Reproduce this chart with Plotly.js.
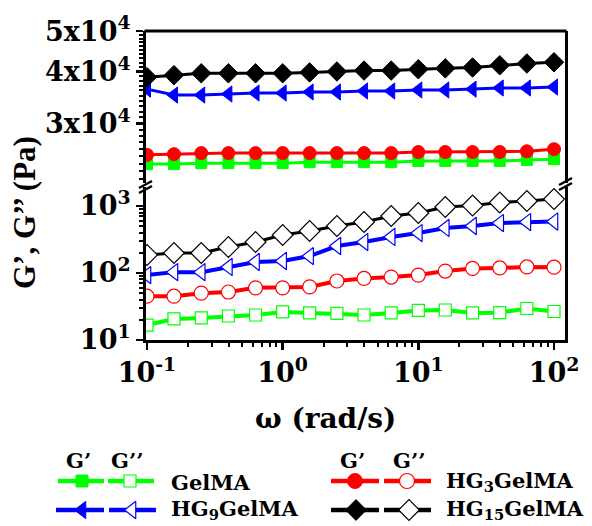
<!DOCTYPE html>
<html>
<head>
<meta charset="utf-8">
<script src="https://cdn.plot.ly/plotly-3.0.1.min.js"></script>
<style>html,body{margin:0;padding:0;background:#fff;}#chart{width:592px;height:526px;}</style>
</head>
<body>
<div id="chart"></div>
<script>
// ---- data ----
const omega = [0.1, 0.158, 0.251, 0.398, 0.631, 1, 1.58, 2.51, 3.98, 6.31, 10, 15.8, 25.1, 39.8, 63.1, 100];

const gelma_Gp   = [23940, 23940, 24070, 24070, 24070, 24070, 24200, 24200, 24200, 24200, 24360, 24360, 24360, 24360, 24500, 24600];
const gelma_Gpp  = [16.7, 20.6, 21.3, 22.8, 23.6, 26.2, 25.3, 25.0, 23.6, 25.3, 27.6, 28.0, 25.3, 25.6, 29.5, 26.6];
const hg3_Gp     = [25200, 25300, 25450, 25450, 25450, 25450, 25450, 25450, 25450, 25450, 25600, 25600, 25600, 25600, 25700, 26000];
const hg3_Gpp    = [45, 45, 50, 52, 60, 60, 62, 76, 83, 87, 93, 107, 117, 119, 123, 122];
const hg9_Gp     = [36270, 35100, 35100, 35300, 35500, 35500, 35700, 35700, 35900, 35900, 36100, 36100, 36270, 36500, 36500, 36700];
const hg9_Gpp    = [93, 103, 103, 123, 146, 151, 179, 253, 290, 345, 395, 470, 503, 557, 577, 587];
const hg15_Gp    = [38760, 39200, 39600, 39600, 39600, 39600, 39800, 40000, 40200, 40200, 40500, 40700, 40900, 41400, 41800, 42100];
const hg15_Gpp   = [186, 199, 199, 244, 290, 369, 424, 503, 577, 710, 787, 966, 1016, 1128, 1188, 1271];

const xTickVals = [0.1, 1, 10, 100];
const xTickText = ['10<sup>-1</sup>', '10<sup>0</sup>', '10<sup>1</sup>', '10<sup>2</sup>'];
const yLowTickVals = [10, 100, 1000];
const yLowTickText = ['10<sup>1</sup>', '10<sup>2</sup>', '10<sup>3</sup>'];
const yHighTickVals = [30000, 40000, 50000];
const yHighTickText = ['3x10<sup>4</sup>', '4x10<sup>4</sup>', '5x10<sup>4</sup>'];

// ---- styling ----
const SERIF = 'Liberation Serif, Times New Roman, serif';
const WIDE = 'DejaVu Serif, serif';
const W = 592, H = 526;
const L = 146, R = 565, T = 31, B = 340, BRK_TOP = 183, BRK_BOT = 187;
const GREEN = '#00ff00', RED = '#ff0000', BLUE = '#0000ff', BLACK = '#000000';

function minorDecades(lo, hi) {
  const v = [];
  for (let e = lo; e < hi; e++) for (let d = 2; d <= 9; d++) v.push(d * Math.pow(10, e));
  return v;
}
const topMinor = [];
for (let v = 22000; v <= 49000; v += 1000) topMinor.push(v);

function gp(y, color, symbol, size, yaxis) {
  return {x: omega, y: y, xaxis: 'x', yaxis: yaxis, type: 'scatter', mode: 'lines+markers',
    line: {color: color, width: 3}, marker: {symbol: symbol, size: size, color: color, line: {color: color, width: 1}},
    showlegend: false, hoverinfo: 'skip'};
}
function gpp(y, color, symbol, size, lw) {
  return {x: omega, y: y, xaxis: 'x', yaxis: 'y', type: 'scatter', mode: 'lines+markers',
    line: {color: color, width: lw}, marker: {symbol: symbol, size: size, color: '#ffffff', line: {color: color, width: 1.2}},
    showlegend: false, hoverinfo: 'skip'};
}

const traces = [
  gp(gelma_Gp, GREEN, 'square', 11, 'y2'),
  gp(hg3_Gp, RED, 'circle', 13, 'y2'),
  gp(hg9_Gp, BLUE, 'triangle-left', 14, 'y2'),
  gp(hg15_Gp, BLACK, 'diamond', 15, 'y2'),
  gpp(gelma_Gpp, GREEN, 'square', 12, 4),
  gpp(hg3_Gpp, RED, 'circle', 14, 4),
  gpp(hg9_Gpp, BLUE, 'triangle-left', 15, 4),
  gpp(hg15_Gpp, BLACK, 'diamond', 16, 3)
];

// legend glyphs (in pixel space of an invisible overlay axis)
const legendRows = [
  {cx1: 82, cx2: 130, xa: 58, xb: 104, xc: 108, xd: 154, y: 481, color: GREEN, sym: 'square', size: 12},
  {cx1: 82, cx2: 132, xa: 56, xb: 104, xc: 109, xd: 156, y: 510, color: BLUE, sym: 'triangle-left', size: 15},
  {cx1: 355, cx2: 407, xa: 331, xb: 379, xc: 384, xd: 431, y: 481, color: RED, sym: 'circle', size: 15},
  {cx1: 356, cx2: 409, xa: 331, xb: 379, xc: 384, xd: 431, y: 510, color: BLACK, sym: 'diamond', size: 16}
];
legendRows.forEach(r => {
  traces.push({x: [r.xa, r.xb], y: [r.y, r.y], xaxis: 'x3', yaxis: 'y3', mode: 'lines', line: {color: r.color, width: 4.5}, showlegend: false, hoverinfo: 'skip'});
  traces.push({x: [r.xc, r.xd], y: [r.y, r.y], xaxis: 'x3', yaxis: 'y3', mode: 'lines', line: {color: r.color, width: 4.5}, showlegend: false, hoverinfo: 'skip'});
  traces.push({x: [r.cx1], y: [r.y], xaxis: 'x3', yaxis: 'y3', mode: 'markers', marker: {symbol: r.sym, size: r.size, color: r.color, line: {color: r.color, width: 1}}, showlegend: false, hoverinfo: 'skip'});
  traces.push({x: [r.cx2], y: [r.y], xaxis: 'x3', yaxis: 'y3', mode: 'markers', marker: {symbol: r.sym, size: r.size, color: '#ffffff', line: {color: r.color, width: 1.2}}, showlegend: false, hoverinfo: 'skip'});
});

const tickFont = {family: WIDE, size: 27, color: '#000', weight: 'bold'};
const legFont = {family: WIDE, size: 21, color: '#000', weight: 'bold'};
const hdrFont = {family: WIDE, size: 21, color: '#000', weight: 'bold'};

const layout = {
  width: W, height: H,
  margin: {l: 0, r: 0, t: 0, b: 0, pad: 0},
  paper_bgcolor: '#ffffff', plot_bgcolor: 'rgba(0,0,0,0)',
  showlegend: false,
  xaxis: {type: 'log', domain: [L / W, R / W], anchor: 'y', automargin: false,
    range: [-1.0074, 2.081], showline: true, linecolor: '#000', linewidth: 3,
    ticks: 'outside', ticklen: 7, tickwidth: 2.5, tickcolor: '#000',
    tickmode: 'array', tickvals: xTickVals, ticktext: xTickText, tickfont: tickFont,
    minor: {tickmode: 'array', tickvals: minorDecades(-1, 2), ticks: 'outside', ticklen: 4, tickwidth: 2, tickcolor: '#000', showgrid: false},
    showgrid: false, zeroline: false},
  yaxis: {type: 'log', domain: [(H - B) / H, (H - BRK_BOT) / H], anchor: 'x', automargin: false,
    range: [0.9995, 3.284], showline: true, mirror: true, linecolor: '#000', linewidth: 3,
    ticks: 'outside', ticklen: 7, tickwidth: 2.5, tickcolor: '#000',
    tickmode: 'array', tickvals: yLowTickVals, ticktext: yLowTickText, tickfont: tickFont,
    minor: {tickmode: 'array', tickvals: minorDecades(1, 4), ticks: 'outside', ticklen: 4, tickwidth: 2, tickcolor: '#000', showgrid: false},
    showgrid: false, zeroline: false},
  yaxis2: {type: 'log', domain: [(H - BRK_TOP) / H, (H - T) / H], anchor: 'x', automargin: false,
    range: [Math.log10(21560), 4.6995], showline: true, mirror: true, linecolor: '#000', linewidth: 3,
    ticks: 'outside', ticklen: 7, tickwidth: 2.5, tickcolor: '#000',
    tickmode: 'array', tickvals: yHighTickVals, ticktext: yHighTickText, tickfont: tickFont,
    minor: {tickmode: 'array', tickvals: topMinor, ticks: 'outside', ticklen: 4, tickwidth: 2, tickcolor: '#000', showgrid: false},
    showgrid: false, zeroline: false},
  xaxis3: {domain: [0, 1], range: [0, W], anchor: 'y3', visible: false, fixedrange: true},
  yaxis3: {domain: [0, 1], range: [H, 0], anchor: 'x3', visible: false, fixedrange: true},
  shapes: [
    {type: 'line', xref: 'x3', yref: 'y3', x0: L - 1.5, x1: R + 1.5, y0: T, y1: T, line: {color: '#000', width: 3}},
    {type: 'line', xref: 'x3', yref: 'y3', x0: L - 7, x1: L + 6, y0: 188, y1: 181, line: {color: '#000', width: 2.5}},
    {type: 'line', xref: 'x3', yref: 'y3', x0: L - 7, x1: L + 6, y0: 193, y1: 186, line: {color: '#000', width: 2.5}},
    {type: 'line', xref: 'x3', yref: 'y3', x0: R - 6, x1: R + 7, y0: 185, y1: 178, line: {color: '#000', width: 2.5}},
    {type: 'line', xref: 'x3', yref: 'y3', x0: R - 6, x1: R + 7, y0: 190, y1: 183, line: {color: '#000', width: 2.5}}
  ],
  annotations: [
    {xref: 'x3', yref: 'y3', x: 24, y: 213, text: 'G’, G’’ (Pa)', textangle: -90, showarrow: false, font: {family: SERIF, size: 31, color: '#000', weight: 'bold'}},
    {xref: 'x3', yref: 'y3', x: 325, y: 418, text: 'ω (rad/s)', showarrow: false, font: {family: WIDE, size: 28, color: '#000', weight: 'bold'}},
    {xref: 'x3', yref: 'y3', x: 78, y: 460, text: 'G’', showarrow: false, font: hdrFont},
    {xref: 'x3', yref: 'y3', x: 127, y: 460, text: 'G’’', showarrow: false, font: hdrFont},
    {xref: 'x3', yref: 'y3', x: 352, y: 460, text: 'G’', showarrow: false, font: hdrFont},
    {xref: 'x3', yref: 'y3', x: 409, y: 460, text: 'G’’', showarrow: false, font: hdrFont},
    {xref: 'x3', yref: 'y3', x: 169, y: 482, xanchor: 'left', text: 'GelMA', showarrow: false, font: legFont},
    {xref: 'x3', yref: 'y3', x: 169, y: 509, xanchor: 'left', text: 'HG<sub>9</sub>GelMA', showarrow: false, font: legFont},
    {xref: 'x3', yref: 'y3', x: 444, y: 481, xanchor: 'left', text: 'HG<sub>3</sub>GelMA', showarrow: false, font: legFont},
    {xref: 'x3', yref: 'y3', x: 444, y: 509, xanchor: 'left', text: 'HG<sub>15</sub>GelMA', showarrow: false, font: legFont}
  ]
};

Plotly.newPlot('chart', traces, layout, {staticPlot: true, displayModeBar: false});
</script>
</body>
</html>
